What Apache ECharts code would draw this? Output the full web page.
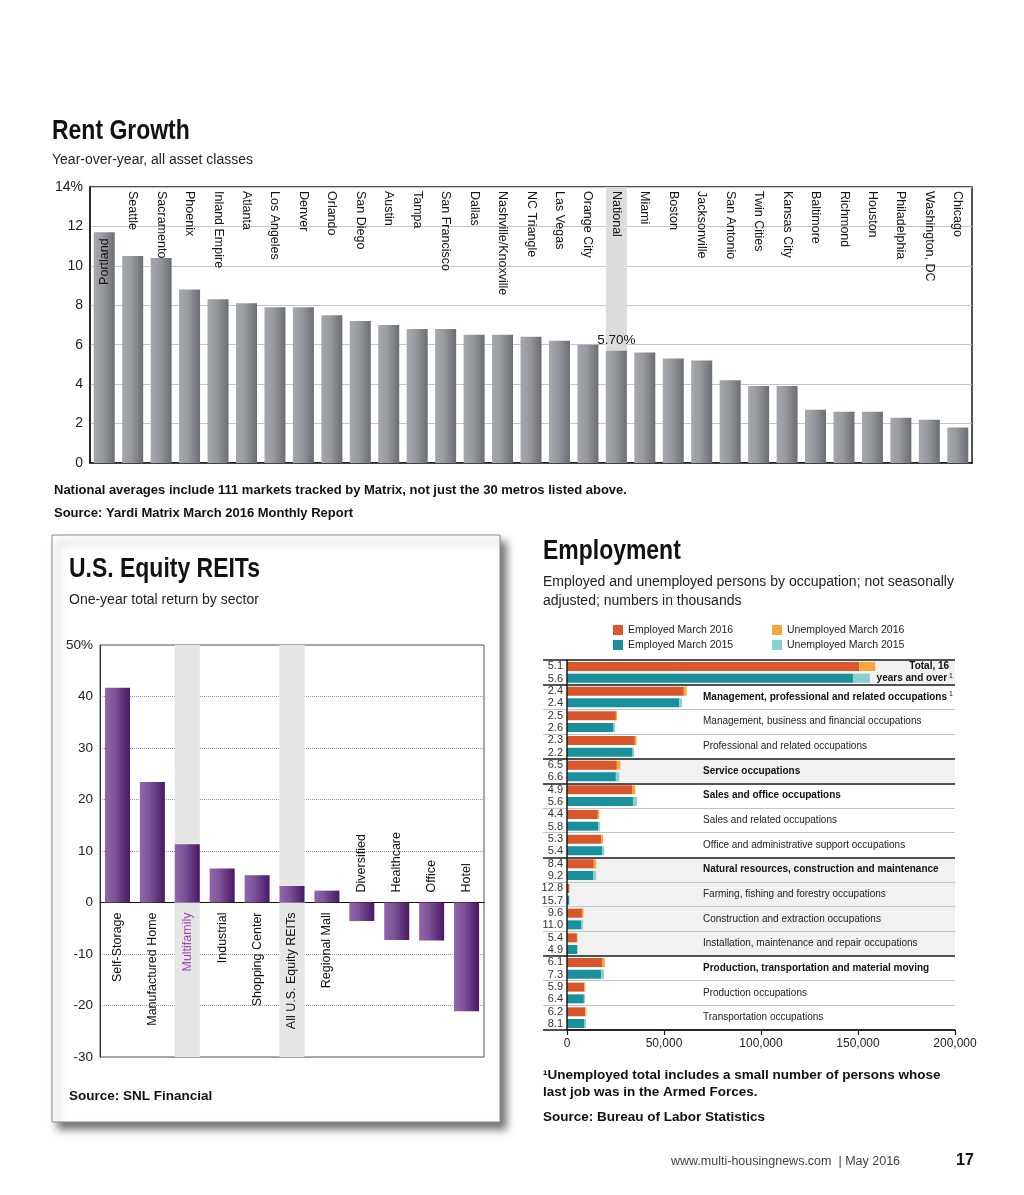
<!DOCTYPE html>
<html>
<head>
<meta charset="utf-8">
<script src="https://cdn.jsdelivr.net/npm/echarts@6.0.0/dist/echarts.min.js"></script>
<style>
html,body{margin:0;padding:0;background:#fff;}
#c{width:1024px;height:1195px;}
</style>
</head>
<body>
<div id="c"></div>
<script>
// ---------- Rent Growth data ----------
const rentCities = ['Portland','Seattle','Sacramento','Phoenix','Inland Empire','Atlanta','Los Angeles','Denver','Orlando','San Diego','Austin','Tampa','San Francisco','Dallas','Nashville/Knoxville','NC Triangle','Las Vegas','Orange City','National','Miami','Boston','Jacksonville','San Antonio','Twin Cities','Kansas City','Baltimore','Richmond','Houston','Philadelphia','Washington, DC','Chicago'];
const rentGrowth = [11.7,10.5,10.4,8.8,8.3,8.1,7.9,7.9,7.5,7.2,7.0,6.8,6.8,6.5,6.5,6.4,6.2,6.0,5.7,5.6,5.3,5.2,4.2,3.9,3.9,2.7,2.6,2.6,2.3,2.2,1.8];
const rentHighlight = 'National';
const rentTicks = [0,2,4,6,8,10,12,14];

// ---------- REIT data ----------
const reitSectors = ['Self-Storage','Manufactured Home','Multifamily','Industrial','Shopping Center','All U.S. Equity REITs','Regional Mall','Diversified','Healthcare','Office','Hotel'];
const reitReturns = [41.7,23.4,11.3,6.6,5.3,3.2,2.3,-3.6,-7.3,-7.4,-21.1];
const reitHighlight = ['Multifamily','All U.S. Equity REITs'];

// ---------- Employment data ----------
const occupations = ['Total, 16 years and over','Management, professional and related occupations','Management, business and financial occupations','Professional and related occupations','Service occupations','Sales and office occupations','Sales and related occupations','Office and administrative support occupations','Natural resources, construction and maintenance','Farming, fishing and forestry occupations','Construction and extraction occupations','Installation, maintenance and repair occupations','Production, transportation and material moving','Production occupations','Transportation occupations'];
const employed2016   = [150700, 60200, 25200, 35000, 25700, 33500, 15900, 17600, 13800, 1100, 7700, 5100, 18300, 8900, 9400];
const unemployed2016 = [8200, 1480, 650, 830, 1790, 1730, 740, 1000, 1260, 160, 820, 290, 1180, 560, 620];
const employed2015   = [147400, 57800, 24000, 33800, 25200, 34000, 16000, 18200, 13600, 1100, 7400, 5200, 17700, 8700, 9000];
const unemployed2015 = [8700, 1420, 640, 760, 1780, 2020, 990, 1040, 1390, 200, 910, 270, 1390, 600, 800];
const rate2016 = ['5.1','2.4','2.5','2.3','6.5','4.9','4.4','5.3','8.4','12.8','9.6','5.4','6.1','5.9','6.2'];
const rate2015 = ['5.6','2.4','2.6','2.2','6.6','5.6','5.8','5.4','9.2','15.7','11.0','4.9','7.3','6.4','8.1'];
const boldRows = ['Management, professional and related occupations','Service occupations','Sales and office occupations','Natural resources, construction and maintenance','Production, transportation and material moving'];
const shadedRows = ['Total, 16 years and over','Service occupations','Natural resources, construction and maintenance','Farming, fishing and forestry occupations','Construction and extraction occupations','Installation, maintenance and repair occupations'];
const groupEnds = ['Total, 16 years and over','Professional and related occupations','Service occupations','Office and administrative support occupations','Installation, maintenance and repair occupations','Transportation occupations'];

// ---------- styles ----------
const SANS = 'Liberation Sans, Arial, Helvetica, sans-serif';
const C_E16 = '#d9572b', C_U16 = '#f6a73c', C_E15 = '#1a909d', C_U15 = '#86cfd3';

const rentGrad = {type:'linear',x:0,y:0,x2:1,y2:0,colorStops:[{offset:0,color:'#a5a8ac'},{offset:0.45,color:'#95999d'},{offset:1,color:'#6a6e73'}]};
const reitGrad = {type:'linear',x:0,y:0,x2:1,y2:0,colorStops:[{offset:0,color:'#8f67a8'},{offset:0.4,color:'#7d5298'},{offset:0.75,color:'#5e2f7a'},{offset:1,color:'#48195f'}]};

// boundary line colors for employment rows (16 boundaries)
const blackLines = [], grayLines = [];
for (let b = 0; b <= occupations.length; b++) {
  const isBlack = b === 0 || groupEnds.includes(occupations[b - 1]);
  blackLines.push(isBlack ? '#1a1a1a' : 'rgba(0,0,0,0)');
  grayLines.push(isBlack ? 'rgba(0,0,0,0)' : '#c4c4c4');
}

// the tallest bar carries its own label inside the bar top
const tallest = rentGrowth.indexOf(Math.max(...rentGrowth));

const chart = echarts.init(document.getElementById('c'), null, {renderer:'canvas'});

function txt(x, y, text, font, color, extra) {
  return Object.assign({type:'text', x, y, z:100, style:{text, font, fill: color || '#111', textVerticalAlign:'middle'}}, extra || {});
}

const cityLabel = {fontFamily:SANS, fontSize:12.5, color:'#151515'};

const option = {
  animation: false,
  backgroundColor: '#fff',
  grid: [
    {left:90, top:187, width:882, height:276, show:true, borderColor:'#1a1a1a', borderWidth:1.5, backgroundColor:'rgba(0,0,0,0)'},
    {left:100, top:645, width:384, height:412, show:true, borderColor:'#555', borderWidth:1, backgroundColor:'rgba(0,0,0,0)'},
    {left:543, top:660, width:412, height:370},
    {left:567, top:660, width:388, height:370}
  ],
  legend: [
    {data:['Employed March 2016','Employed March 2015'], orient:'vertical', left:613, top:624, padding:0, itemWidth:10, itemHeight:10, itemGap:3, icon:'rect', selectedMode:false,
     textStyle:{fontFamily:SANS, fontSize:10.5, color:'#222', lineHeight:12}},
    {data:['Unemployed March 2016','Unemployed March 2015'], orient:'vertical', left:772, top:624, padding:0, itemWidth:10, itemHeight:10, itemGap:3, icon:'rect', selectedMode:false,
     textStyle:{fontFamily:SANS, fontSize:10.5, color:'#222', lineHeight:12}}
  ],
  xAxis: [
    {gridIndex:0, type:'category', data:rentCities, axisLine:{lineStyle:{color:'#1a1a1a', width:1.5}}, axisTick:{show:false}, axisLabel:{show:false}},
    {gridIndex:0, type:'category', position:'top', data:rentCities, z:10, axisLine:{show:false}, axisTick:{show:false},
     axisLabel:Object.assign({inside:true, rotate:90, interval:0, margin:4,
       formatter:(v, i)=> i === tallest ? '' : v}, cityLabel)},
    {gridIndex:1, type:'category', data:reitSectors, axisLine:{onZero:true, lineStyle:{color:'#111', width:1.2}}, axisTick:{show:false}, axisLabel:{show:false}},
    {gridIndex:2, type:'value', show:false, min:0, max:1},
    {gridIndex:3, type:'value', min:0, max:200000, interval:50000,
     axisLine:{show:true, lineStyle:{color:'#1a1a1a', width:1.5}}, axisTick:{show:true, length:5, lineStyle:{color:'#1a1a1a', width:1.2}},
     splitLine:{show:false}, axisLabel:{margin:8, fontFamily:SANS, fontSize:12, color:'#222', formatter:(v)=> v.toLocaleString('en-US')}}
  ],
  yAxis: [
    {gridIndex:0, type:'value', min:rentTicks[0], max:rentTicks[rentTicks.length-1], interval:rentTicks[1]-rentTicks[0],
     axisLine:{show:true, lineStyle:{color:'#1a1a1a', width:1.5}}, axisTick:{show:false},
     splitLine:{lineStyle:{color:'#c6c6c6', width:1}},
     axisLabel:{margin:7, fontFamily:SANS, fontSize:14, color:'#222', formatter:(v)=> v === 14 ? '14%' : String(v)}},
    {gridIndex:1, type:'value', min:-30, max:50, interval:10,
     axisLine:{show:true, lineStyle:{color:'#333', width:1}}, axisTick:{show:false},
     splitLine:{lineStyle:{color:'#9a9a9a', width:1, type:'dotted'}},
     axisLabel:{margin:7, fontFamily:SANS, fontSize:13.5, color:'#222', formatter:(v)=> v === 50 ? '50%' : String(v)}},
    {gridIndex:2, type:'category', inverse:true, data:occupations, z:5, axisLine:{show:false}, axisTick:{show:false}, axisLabel:{show:false},
     splitLine:{show:true, interval:0, lineStyle:{color:blackLines, width:1.5}}},
    {gridIndex:2, type:'category', inverse:true, data:occupations, z:5, axisLine:{show:false}, axisTick:{show:false}, axisLabel:{show:false},
     splitLine:{show:true, interval:0, lineStyle:{color:grayLines, width:1}}},
    {gridIndex:3, type:'category', inverse:true, data:occupations, position:'left', z:6,
     axisLine:{show:true, onZero:false, lineStyle:{color:'#1a1a1a', width:1.5}}, axisTick:{show:false},
     axisLabel:{interval:0, margin:4, fontFamily:SANS, fontSize:11, lineHeight:12.3, color:'#333',
       formatter:(v, i)=> rate2016[i] + '\n' + rate2015[i]}},
    {gridIndex:3, type:'category', inverse:true, data:occupations, position:'left', z:10,
     axisLine:{show:false, onZero:false}, axisTick:{show:false},
     axisLabel:{inside:true, interval:0, margin:136, fontFamily:SANS, fontSize:10, color:'#222',
       formatter:(v)=> {
         if (v === occupations[0]) return '';
         let s = boldRows.includes(v) ? '{b|' + v + '}' : '{n|' + v + '}';
         if (v === occupations[1]) s += '{sup| 1}';
         return s;
       },
       rich:{n:{fontFamily:SANS, fontSize:10, color:'#222'},
             b:{fontFamily:SANS, fontSize:10, fontWeight:'bold', color:'#111'},
             sup:{fontFamily:SANS, fontSize:7, color:'#111', verticalAlign:'top', padding:[0,0,5,0]}}}},
    {gridIndex:3, type:'category', inverse:true, data:occupations, position:'right', z:10,
     axisLine:{show:false, onZero:false}, axisTick:{show:false},
     axisLabel:{inside:true, interval:0, margin:2,
       formatter:(v)=> v === occupations[0] ? '{b|Total, 16}{sp|  }\n{b|years and over}{sup| 1}' : '',
       rich:{b:{fontFamily:SANS, fontSize:10, fontWeight:'bold', color:'#111', lineHeight:12},
             sp:{fontSize:7, lineHeight:12},
             sup:{fontFamily:SANS, fontSize:7, color:'#111', lineHeight:12, verticalAlign:'top'}}}}
  ],
  series: [
    // Rent Growth
    {type:'bar', name:'natBand', xAxisIndex:0, yAxisIndex:0, barWidth:21, silent:true, z:1,
     data: rentCities.map(c => c === rentHighlight ? rentTicks[rentTicks.length-1] : '-'),
     itemStyle:{color:'#dcdcda'}},
    {type:'bar', name:'rent', xAxisIndex:0, yAxisIndex:0, barWidth:21, barGap:'-100%', z:2,
     data: rentGrowth.map((v, i) => {
       if (rentCities[i] === rentHighlight)
         return {value:v, label:{show:true, position:'top', distance:3, fontFamily:SANS, fontSize:13.5, color:'#151515', formatter:(p)=> p.value.toFixed(2) + '%'}};
       if (i === tallest)
         return {value:v, label:Object.assign({show:true, position:'insideTop', rotate:90, align:'right', verticalAlign:'middle', distance:6, formatter:(p)=> p.name}, cityLabel)};
       return v;
     }),
     itemStyle:{color:rentGrad}},
    // REITs
    {type:'bar', name:'bandUp', xAxisIndex:2, yAxisIndex:1, stack:'band', barWidth:25, silent:true, z:1,
     data: reitSectors.map(s => reitHighlight.includes(s) ? 50 : '-'), itemStyle:{color:'#e6e6e6'}},
    {type:'bar', name:'bandDown', xAxisIndex:2, yAxisIndex:1, stack:'band', barWidth:25, silent:true, z:1,
     data: reitSectors.map(s => reitHighlight.includes(s) ? -30 : '-'), itemStyle:{color:'#e6e6e6'}},
    {type:'bar', name:'reit', xAxisIndex:2, yAxisIndex:1, barWidth:25, barGap:'-100%', z:2,
     data: reitReturns.map((v, i) => ({value:v, label:{show:true, rotate:90,
        position: v >= 0 ? 'bottom' : 'top', align: v >= 0 ? 'right' : 'left', verticalAlign:'middle', distance:10,
        fontFamily:SANS, fontSize:12.5, color: reitSectors[i] === 'Multifamily' ? '#9a4db5' : '#111',
        formatter: reitSectors[i]}})),
     itemStyle:{color:reitGrad}},
    // Employment
    {type:'bar', name:'shade', xAxisIndex:4, yAxisIndex:6, barWidth:'100%', silent:true, z:1,
     data: occupations.map(o => shadedRows.includes(o) ? 200000 : '-'), itemStyle:{color:'#f1f1f1'}},
    {type:'bar', name:'Employed March 2016', xAxisIndex:4, yAxisIndex:4, stack:'s16', barWidth:9, z:3, data:employed2016, itemStyle:{color:C_E16}},
    {type:'bar', name:'Unemployed March 2016', xAxisIndex:4, yAxisIndex:4, stack:'s16', barWidth:9, z:3, data:unemployed2016, itemStyle:{color:C_U16}},
    {type:'bar', name:'Employed March 2015', xAxisIndex:4, yAxisIndex:4, stack:'s15', barWidth:9, barGap:'30%', z:3, data:employed2015, itemStyle:{color:C_E15}},
    {type:'bar', name:'Unemployed March 2015', xAxisIndex:4, yAxisIndex:4, stack:'s15', barWidth:9, barGap:'30%', z:3, data:unemployed2015, itemStyle:{color:C_U15}}
  ],
  graphic: [
    {type:'rect', z:-10, shape:{x:52, y:535, width:448, height:587},
     style:{fill:'#fff', stroke:'#8a8a8a', lineWidth:1, shadowColor:'rgba(0,0,0,0.55)', shadowBlur:8, shadowOffsetX:6, shadowOffsetY:7}},
    txt(52, 131, 'Rent Growth', 'bold 28px ' + SANS, '#111', {scaleX:0.82}),
    txt(52, 160, 'Year-over-year, all asset classes', '14px ' + SANS, '#222'),
    txt(54, 490, 'National averages include 111 markets tracked by Matrix, not just the 30 metros listed above.', 'bold 13px ' + SANS, '#111'),
    txt(54, 513, 'Source: Yardi Matrix March 2016 Monthly Report', 'bold 13px ' + SANS, '#111'),
    txt(69, 569, 'U.S. Equity REITs', 'bold 28px ' + SANS, '#111', {scaleX:0.82}),
    txt(69, 600, 'One-year total return by sector', '14px ' + SANS, '#222'),
    txt(69, 1096, 'Source: SNL Financial', 'bold 13.5px ' + SANS, '#111'),
    txt(543, 551, 'Employment', 'bold 28px ' + SANS, '#111', {scaleX:0.82}),
    txt(543, 582, 'Employed and unemployed persons by occupation; not seasonally', '14px ' + SANS, '#222'),
    txt(543, 601, 'adjusted; numbers in thousands', '14px ' + SANS, '#222'),
    txt(543, 1075, '\u00b9Unemployed total includes a small number of persons whose', 'bold 13.5px ' + SANS, '#111'),
    txt(543, 1092, 'last job was in the Armed Forces.', 'bold 13.5px ' + SANS, '#111'),
    txt(543, 1117, 'Source: Bureau of Labor Statistics', 'bold 13.5px ' + SANS, '#111'),
    txt(671, 1162, 'www.multi-housingnews.com  | May 2016', '12.5px ' + SANS, '#444'),
    txt(956, 1161, '17', 'bold 16px ' + SANS, '#111')
  ]
};
chart.setOption(option);
</script>
</body>
</html>
